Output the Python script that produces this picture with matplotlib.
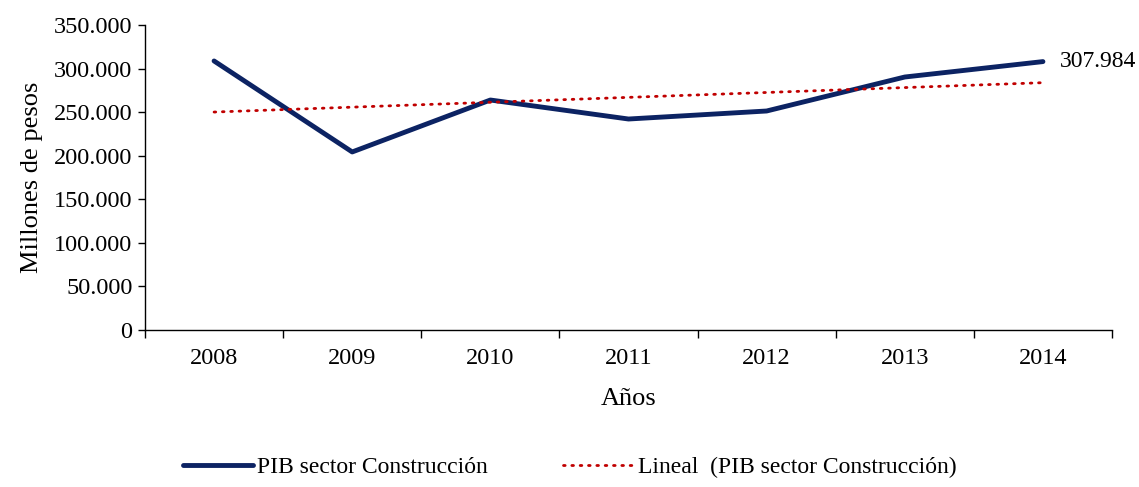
import numpy as np
import matplotlib
matplotlib.use("Agg")
import matplotlib.pyplot as plt
from matplotlib.ticker import FuncFormatter, FixedLocator

# -----------------------------
# Datos
# -----------------------------
years = ["2008", "2009", "2010", "2011", "2012", "2013", "2014"]
pib_construccion = [308700, 204300, 263900, 242100, 251300, 290300, 307984]
ultimo_label = "307.984"

plt.rcParams["font.family"] = ["Liberation Serif", "DejaVu Serif"]

fig = plt.figure(figsize=(11.39, 4.87), dpi=100)
ax = fig.add_axes([0.1273, 0.3224, 0.8490, 0.6263])

x = np.arange(len(years))
# tendencia lineal (ajuste de los datos)
coef = np.polyfit(x, pib_construccion, 1)
tendencia = np.polyval(coef, x)

ax.plot(x, pib_construccion, color="#0c2363", lw=3.5, solid_capstyle="round",
        label="PIB sector Construcción")
ax.plot(x, tendencia, color="#c00000", lw=2, linestyle=(0, (0.6, 2.4)),
        dash_capstyle="round", label="Lineal  (PIB sector Construcción)")

ax.annotate(ultimo_label, (x[-1], pib_construccion[-1]), xytext=(12, 0),
            textcoords="offset points", va="center", ha="left", fontsize=17)

ax.set_xlim(-0.5, len(years) - 0.5)
ax.set_ylim(0, 350000)
ax.set_yticks(np.arange(0, 350001, 50000))
ax.yaxis.set_major_formatter(FuncFormatter(lambda v, p: f"{int(v):,}".replace(",", ".")))
ax.set_xticks(x)
ax.set_xticklabels(years)
ax.xaxis.set_minor_locator(FixedLocator(np.arange(-0.5, len(years), 1.0)))
ax.tick_params(axis="x", which="major", length=0, pad=13, labelsize=17.5)
ax.tick_params(axis="x", which="minor", length=6, width=1, direction="out")
ax.tick_params(axis="y", length=5, width=1, direction="out", labelsize=17.5, pad=4)

for s in ["top", "right"]:
    ax.spines[s].set_visible(False)
for s in ["left", "bottom"]:
    ax.spines[s].set_linewidth(1)

ax.set_xlabel("Años", fontsize=19, labelpad=14)
ax.set_ylabel("Millones de pesos", fontsize=19, labelpad=8)

fig.legend(loc="center", bbox_to_anchor=(0.5, 0.04), ncol=2, frameon=False,
           fontsize=17, handlelength=3.0, handletextpad=0.15, columnspacing=3.2)

fig.savefig("out.png", dpi=100)
